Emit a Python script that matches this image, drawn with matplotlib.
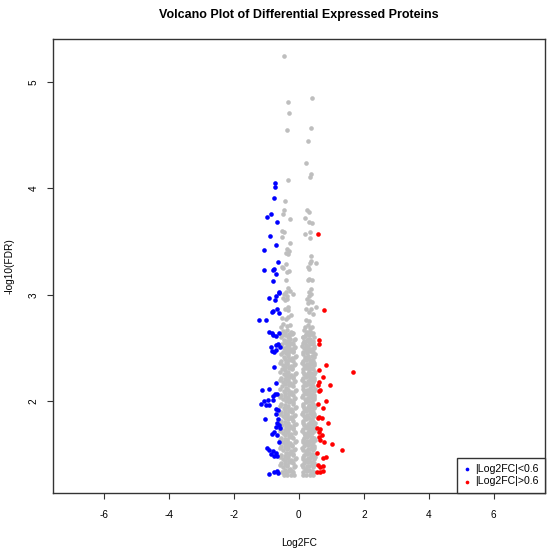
import matplotlib
matplotlib.use("Agg")
import matplotlib.pyplot as plt

plt.rcParams['font.family'] = ['Liberation Sans', 'DejaVu Sans']
plt.rcParams['axes.unicode_minus'] = False

# sparse grey points above the dense cloud
grey_top_x = [-0.46, 0.40, -0.34, -0.29, -0.38, 0.37, 0.27, 0.22, 0.37, 0.34, -0.33,
              -0.42, -0.45, -0.49, -0.28, 0.26, 0.31, 0.18, 0.30, 0.42, -0.51, -0.45,
              -0.53, 0.18, 0.34, 0.35, -0.27, -0.36, -0.29, -0.39, -0.34, 0.36, 0.36,
              0.34, 0.54, -0.41, -0.53, -0.48, -0.38, -0.29, 0.27, 0.30, -0.39, 0.27,
              0.32, 0.42, -0.34, -0.26, -0.18, -0.41, -0.46, -0.37, 0.36, 0.32, 0.30,
              0.38, -0.50, -0.43, -0.36, 0.25, 0.34, 0.28, 0.40, -0.34, -0.42, -0.32,
              0.22, 0.38, 0.32, 0.44, 0.52, -0.25, -0.34, -0.51, -0.40, -0.48, -0.38,
              -0.28, -0.56, 0.22, 0.32, 0.28, 0.40, 0.20, 0.34]
grey_top_y = [5.24, 4.85, 4.81, 4.71, 4.55, 4.57, 4.44, 4.24, 4.13, 4.11, 4.08,
              3.88, 3.80, 3.76, 3.71, 3.80, 3.78, 3.72, 3.68, 3.67, 3.60, 3.59,
              3.54, 3.57, 3.59, 3.53, 3.49, 3.43, 3.41, 3.39, 3.38, 3.36, 3.32,
              3.30, 3.30, 3.29, 3.26, 3.25, 3.21, 3.22, 3.26, 3.24, 3.14, 3.14,
              3.15, 3.14, 3.06, 3.04, 3.01, 3.03, 3.01, 2.99, 3.05, 3.03, 2.99,
              3.01, 2.97, 2.95, 2.96, 2.96, 2.94, 2.92, 2.93, 2.89, 2.87, 2.86,
              2.87, 2.87, 2.84, 2.82, 2.89, 2.81, 2.79, 2.78, 2.77, 2.73, 2.71,
              2.72, 2.70, 2.76, 2.75, 2.72, 2.70, 2.70, 2.69]

# dense grey cloud (left column | right column)
grey_x = [
    -0.49, -0.36, -0.25, -0.17, 0.16, 0.25, 0.35, 0.44,
    -0.44, -0.31, -0.21, -0.53, 0.19, 0.30, 0.40, 0.14,
    -0.47, -0.38, -0.27, -0.16, 0.15, 0.24, 0.34, 0.45,
    -0.52, -0.40, -0.29, -0.19, 0.13, 0.22, 0.33, 0.43,
    -0.45, -0.34, -0.23, -0.14, 0.17, 0.28, 0.38, 0.46,
    -0.50, -0.39, -0.27, -0.17, 0.14, 0.24, 0.35, 0.44,
    -0.46, -0.33, -0.22, -0.13, 0.18, 0.29, 0.40, 0.47,
    -0.54, -0.41, -0.30, -0.19, 0.14, 0.23, 0.33, 0.45,
    -0.48, -0.36, -0.25, -0.14, 0.16, 0.27, 0.37, 0.46,
    -0.52, -0.42, -0.31, -0.20, 0.13, 0.21, 0.32, 0.43,
    -0.47, -0.35, -0.24, -0.13, 0.15, 0.26, 0.38, 0.47,
    -0.55, -0.43, -0.29, -0.18, 0.14, 0.23, 0.34, 0.46,
    -0.49, -0.37, -0.26, -0.14, 0.17, 0.29, 0.40, 0.45,
    -0.53, -0.41, -0.30, -0.19, 0.13, 0.22, 0.33, 0.44,
    -0.46, -0.34, -0.23, -0.13, 0.16, 0.27, 0.38, 0.47,
    -0.56, -0.44, -0.31, -0.19, 0.14, 0.24, 0.35, 0.46,
    -0.50, -0.38, -0.26, -0.14, 0.18, 0.29, 0.41, 0.47,
    -0.54, -0.42, -0.30, -0.18, 0.13, 0.21, 0.32, 0.44,
    -0.47, -0.36, -0.24, -0.13, 0.15, 0.26, 0.37, 0.46,
    -0.55, -0.43, -0.31, -0.20, 0.14, 0.23, 0.34, 0.45,
    -0.49, -0.37, -0.25, -0.14, 0.17, 0.28, 0.40, 0.47,
    -0.56, -0.44, -0.32, -0.19, 0.13, 0.22, 0.33, 0.44,
    -0.51, -0.39, -0.27, -0.14, 0.16, 0.27, 0.38, 0.46,
    -0.54, -0.42, -0.30, -0.17, 0.13, 0.24, 0.35, 0.46,
    -0.48, -0.36, -0.24, -0.13, 0.15, 0.20, 0.31, 0.42,
    -0.55, -0.43, -0.31, -0.19, 0.15, 0.26, 0.37, 0.47,
    -0.50, -0.38, -0.26, -0.13, 0.14, 0.23, 0.34, 0.45,
    -0.56, -0.44, -0.32, -0.20, 0.17, 0.28, 0.39, 0.47,
    -0.49, -0.37, -0.25, -0.14, 0.13, 0.22, 0.33, 0.44,
    -0.54, -0.42, -0.30, -0.18, 0.15, 0.26, 0.37, 0.46,
    -0.48, -0.36, -0.24, -0.13, 0.14, 0.23, 0.34, 0.46,
    -0.55, -0.43, -0.31, -0.19, 0.17, 0.28, 0.39, 0.47,
    -0.50, -0.38, -0.26, -0.14, 0.13, 0.21, 0.32, 0.43,
    -0.53, -0.41, -0.29, -0.17, 0.14, 0.25, 0.36, 0.46,
    -0.47, -0.35, -0.23, -0.14, 0.13, 0.22, 0.33, 0.44,
]
grey_y = [
    2.66, 2.67, 2.65, 2.64, 2.67, 2.65, 2.66, 2.64,
    2.62, 2.61, 2.63, 2.62, 2.61, 2.62, 2.63, 2.60,
    2.58, 2.57, 2.59, 2.58, 2.57, 2.58, 2.59, 2.57,
    2.54, 2.55, 2.53, 2.54, 2.55, 2.53, 2.54, 2.55,
    2.50, 2.51, 2.49, 2.50, 2.50, 2.51, 2.49, 2.50,
    2.46, 2.45, 2.47, 2.46, 2.46, 2.45, 2.47, 2.46,
    2.42, 2.43, 2.41, 2.42, 2.42, 2.41, 2.43, 2.42,
    2.38, 2.37, 2.39, 2.38, 2.38, 2.39, 2.37, 2.38,
    2.34, 2.35, 2.33, 2.34, 2.34, 2.33, 2.35, 2.34,
    2.30, 2.29, 2.31, 2.30, 2.30, 2.31, 2.29, 2.30,
    2.26, 2.27, 2.25, 2.26, 2.26, 2.25, 2.27, 2.26,
    2.22, 2.21, 2.23, 2.22, 2.22, 2.23, 2.21, 2.22,
    2.18, 2.19, 2.17, 2.18, 2.18, 2.17, 2.19, 2.18,
    2.14, 2.13, 2.15, 2.14, 2.14, 2.15, 2.13, 2.14,
    2.10, 2.11, 2.09, 2.10, 2.10, 2.09, 2.11, 2.10,
    2.06, 2.05, 2.07, 2.06, 2.06, 2.07, 2.05, 2.06,
    2.02, 2.03, 2.01, 2.02, 2.02, 2.01, 2.03, 2.02,
    1.98, 1.97, 1.99, 1.98, 1.98, 1.99, 1.97, 1.98,
    1.94, 1.95, 1.93, 1.94, 1.94, 1.93, 1.95, 1.94,
    1.90, 1.89, 1.91, 1.90, 1.90, 1.91, 1.89, 1.90,
    1.86, 1.87, 1.85, 1.86, 1.86, 1.85, 1.87, 1.86,
    1.82, 1.81, 1.83, 1.82, 1.82, 1.83, 1.81, 1.82,
    1.78, 1.79, 1.77, 1.78, 1.78, 1.77, 1.79, 1.78,
    1.74, 1.73, 1.75, 1.74, 1.74, 1.75, 1.73, 1.74,
    1.70, 1.71, 1.69, 1.70, 1.70, 1.69, 1.71, 1.70,
    1.66, 1.65, 1.67, 1.66, 1.66, 1.67, 1.65, 1.66,
    1.62, 1.63, 1.61, 1.62, 1.62, 1.61, 1.63, 1.62,
    1.58, 1.57, 1.59, 1.58, 1.58, 1.59, 1.57, 1.58,
    1.54, 1.55, 1.53, 1.54, 1.54, 1.53, 1.55, 1.54,
    1.50, 1.49, 1.51, 1.50, 1.50, 1.51, 1.49, 1.50,
    1.46, 1.47, 1.45, 1.46, 1.46, 1.45, 1.47, 1.46,
    1.42, 1.41, 1.43, 1.42, 1.42, 1.43, 1.41, 1.42,
    1.38, 1.39, 1.37, 1.38, 1.38, 1.37, 1.39, 1.38,
    1.34, 1.33, 1.35, 1.34, 1.34, 1.35, 1.33, 1.34,
    1.31, 1.31, 1.31, 1.31, 1.31, 1.31, 1.31, 1.31,
]

# points lying between the rows above (the cloud is packed in the reference)
grey_mid_x = [
    -0.42, -0.30, -0.20, 0.21, 0.31, 0.40,
    -0.55, -0.33, -0.12, 0.12, 0.27, 0.47,
    -0.43, -0.31, -0.21, 0.20, 0.30, 0.41,
    -0.57, -0.35, -0.11, 0.11, 0.26, 0.48,
    -0.41, -0.29, -0.19, 0.21, 0.32, 0.40,
    -0.56, -0.34, -0.10, 0.12, 0.28, 0.49,
    -0.43, -0.31, -0.21, 0.19, 0.30, 0.41,
    -0.58, -0.35, -0.11, 0.11, 0.26, 0.48,
    -0.42, -0.30, -0.20, 0.20, 0.31, 0.40,
    -0.57, -0.33, -0.10, 0.12, 0.27, 0.49,
    -0.41, -0.29, -0.19, 0.21, 0.32, 0.41,
    -0.58, -0.34, -0.11, 0.11, 0.28, 0.48,
    -0.43, -0.31, -0.21, 0.20, 0.30, 0.40,
    -0.57, -0.35, -0.10, 0.12, 0.26, 0.49,
    -0.42, -0.30, -0.20, 0.19, 0.31, 0.41,
    -0.58, -0.33, -0.11, 0.11, 0.27, 0.48,
    -0.41, -0.29, -0.19, 0.21, 0.32, 0.40,
    -0.57, -0.34, -0.10, 0.12, 0.28, 0.49,
    -0.43, -0.31, -0.21, 0.20, 0.30, 0.41,
    -0.58, -0.35, -0.11, 0.11, 0.26, 0.48,
    -0.42, -0.30, -0.20, 0.19, 0.31, 0.40,
    -0.57, -0.33, -0.10, 0.12, 0.27, 0.49,
    -0.41, -0.29, -0.19, 0.21, 0.32, 0.41,
    -0.58, -0.34, -0.11, 0.11, 0.28, 0.48,
    -0.43, -0.31, -0.21, 0.20, 0.30, 0.40,
    -0.57, -0.35, -0.10, 0.12, 0.26, 0.49,
    -0.42, -0.30, -0.20, 0.19, 0.31, 0.41,
    -0.58, -0.33, -0.11, 0.11, 0.27, 0.48,
    -0.41, -0.29, -0.19, 0.21, 0.32, 0.40,
    -0.57, -0.34, -0.10, 0.12, 0.28, 0.49,
    -0.43, -0.31, -0.21, 0.20, 0.30, 0.41,
    -0.58, -0.35, -0.11, 0.11, 0.26, 0.48,
    -0.42, -0.30, -0.20, 0.19, 0.31, 0.40,
]
grey_mid_y = [
    2.64, 2.63, 2.64, 2.63, 2.64, 2.63,
    2.60, 2.60, 2.59, 2.60, 2.59, 2.60,
    2.56, 2.56, 2.55, 2.56, 2.56, 2.55,
    2.52, 2.52, 2.51, 2.52, 2.51, 2.52,
    2.48, 2.48, 2.47, 2.48, 2.48, 2.47,
    2.44, 2.44, 2.43, 2.44, 2.43, 2.44,
    2.40, 2.40, 2.39, 2.40, 2.40, 2.39,
    2.36, 2.36, 2.35, 2.36, 2.35, 2.36,
    2.32, 2.32, 2.31, 2.32, 2.32, 2.31,
    2.28, 2.28, 2.27, 2.28, 2.27, 2.28,
    2.24, 2.24, 2.23, 2.24, 2.24, 2.23,
    2.20, 2.20, 2.19, 2.20, 2.19, 2.20,
    2.16, 2.16, 2.15, 2.16, 2.16, 2.15,
    2.12, 2.12, 2.11, 2.12, 2.11, 2.12,
    2.08, 2.08, 2.07, 2.08, 2.08, 2.07,
    2.04, 2.04, 2.03, 2.04, 2.03, 2.04,
    2.00, 2.00, 1.99, 2.00, 2.00, 1.99,
    1.96, 1.96, 1.95, 1.96, 1.95, 1.96,
    1.92, 1.92, 1.91, 1.92, 1.92, 1.91,
    1.88, 1.88, 1.87, 1.88, 1.87, 1.88,
    1.84, 1.84, 1.83, 1.84, 1.84, 1.83,
    1.80, 1.80, 1.79, 1.80, 1.79, 1.80,
    1.76, 1.76, 1.75, 1.76, 1.76, 1.75,
    1.72, 1.72, 1.71, 1.72, 1.71, 1.72,
    1.68, 1.68, 1.67, 1.68, 1.68, 1.67,
    1.64, 1.64, 1.63, 1.64, 1.63, 1.64,
    1.60, 1.60, 1.59, 1.60, 1.60, 1.59,
    1.56, 1.56, 1.55, 1.56, 1.55, 1.56,
    1.52, 1.52, 1.51, 1.52, 1.52, 1.51,
    1.48, 1.48, 1.47, 1.48, 1.47, 1.48,
    1.44, 1.44, 1.43, 1.44, 1.44, 1.43,
    1.40, 1.40, 1.39, 1.40, 1.39, 1.40,
    1.36, 1.36, 1.35, 1.36, 1.36, 1.35,
]

blue_x = [-0.73, -0.73, -0.76, -0.99, -0.86, -0.66, -0.88, -0.71, -1.08, -0.64,
          -1.08, -0.81, -0.75, -0.70, -0.81, -0.62, -0.61, -0.71, -0.92, -0.73,
          -0.66, -0.83, -0.81, -0.61, -1.24, -1.02, -0.91, -0.83, -0.79, -0.61,
          -0.71, -0.87, -0.71, -0.63, -0.58, -0.83, -0.75, -0.71, -0.77, -0.71,
          -1.14, -0.91, -0.79, -0.72, -0.67, -1.18, -1.06, -0.95, -0.81, -0.91,
          -1.00, -0.71, -0.64, -0.69, -1.04, -0.63, -0.67, -0.61, -0.69, -0.58,
          -0.83, -0.75, -0.67, -0.61, -0.97, -0.91, -0.85, -0.79, -0.71, -0.77,
          -0.66, -0.91, -0.75, -0.67, -0.63]
blue_y = [4.05, 4.01, 3.91, 3.73, 3.76, 3.68, 3.55, 3.47, 3.42, 3.31,
          3.23, 3.23, 3.24, 3.20, 3.13, 3.03, 3.02, 2.99, 2.97, 2.95,
          2.87, 2.84, 2.85, 2.83, 2.76, 2.76, 2.65, 2.64, 2.62, 2.64,
          2.61, 2.51, 2.53, 2.54, 2.51, 2.47, 2.46, 2.48, 2.32, 2.17,
          2.11, 2.12, 2.05, 2.07, 2.07, 1.98, 2.00, 2.01, 2.01, 1.97,
          1.97, 1.93, 1.92, 1.88, 1.83, 1.83, 1.80, 1.78, 1.76, 1.75,
          1.69, 1.71, 1.68, 1.62, 1.56, 1.54, 1.51, 1.53, 1.52, 1.49,
          1.49, 1.32, 1.34, 1.35, 1.33]

red_x = [0.58, 0.76, 0.61, 0.63, 0.85, 1.67, 0.63, 0.73, 0.61, 0.58,
         0.65, 0.61, 0.97, 0.85, 0.75, 0.58, 0.58, 0.63, 0.71, 0.89,
         0.56, 0.66, 0.61, 0.63, 0.71, 0.65, 0.77, 1.02, 1.34, 0.56,
         0.83, 0.75, 0.58, 0.65, 0.73, 0.56, 0.66, 0.73]
red_y = [3.57, 2.86, 2.58, 2.54, 2.34, 2.28, 2.29, 2.23, 2.18, 2.15,
         2.11, 2.10, 2.15, 2.00, 1.94, 1.98, 1.84, 1.85, 1.84, 1.80,
         1.75, 1.74, 1.71, 1.67, 1.68, 1.64, 1.62, 1.60, 1.54, 1.52,
         1.48, 1.47, 1.40, 1.38, 1.39, 1.34, 1.34, 1.35]

x_ticks = [-6, -4, -2, 0, 2, 4, 6]
y_ticks = [2, 3, 4, 5]
legend_labels = ['|Log2FC|<0.6', '|Log2FC|>0.6']

W, H = 550, 549
fig = plt.figure(figsize=(W / 100, H / 100), dpi=100)
left, right, top, bottom = 52.7, 545, 39.3, 492.7
ax = fig.add_axes([left / W, 1 - bottom / H, (right - left) / W, (bottom - top) / H])

dot = 11
ax.scatter(grey_top_x, grey_top_y, s=dot, c='#BEBEBE', linewidths=0)
ax.scatter(grey_x, grey_y, s=dot, c='#BEBEBE', linewidths=0)
ax.scatter(grey_mid_x, grey_mid_y, s=dot, c='#BEBEBE', linewidths=0)
ax.scatter(blue_x, blue_y, s=dot, c='#0000FF', linewidths=0, label=legend_labels[0])
ax.scatter(red_x, red_y, s=dot, c='#FF0000', linewidths=0, label=legend_labels[1])

ax.set_xlim(-7.58, 7.58)
ax.set_ylim(1.143, 5.398)
ax.set_xticks(x_ticks)
ax.set_xticklabels([str(t) for t in x_ticks])
ax.set_yticks(y_ticks)
ax.set_yticklabels([str(t) for t in y_ticks], rotation=90, va='center')
ax.tick_params(length=4.3, width=0.8, labelsize=7.2, color='#333333')
ax.tick_params(axis='x', pad=8)
ax.tick_params(axis='y', pad=6)
for sp in ax.spines.values():
    sp.set_linewidth(1.0)
    sp.set_color('#333333')

leg = ax.legend(loc='lower right', borderaxespad=0, fancybox=False, framealpha=1,
                edgecolor='#333333', fontsize=7.6, handlelength=0.6, handletextpad=0.5,
                markerscale=0.8, borderpad=0.6, labelspacing=0.2)
leg.get_frame().set_linewidth(1.0)

fig.text(298.9 / W, 1 - 15 / H, 'Volcano Plot of Differential Expressed Proteins',
         ha='center', va='center', fontsize=9, fontweight='bold')
fig.text(298.9 / W, 1 - 543.5 / H, 'Log2FC', ha='center', va='center', fontsize=7.3)
fig.text(10 / W, 1 - 266 / H, '-log10(FDR)', ha='center', va='center',
         rotation=90, fontsize=7.3)

fig.savefig('out.png', dpi=100)
